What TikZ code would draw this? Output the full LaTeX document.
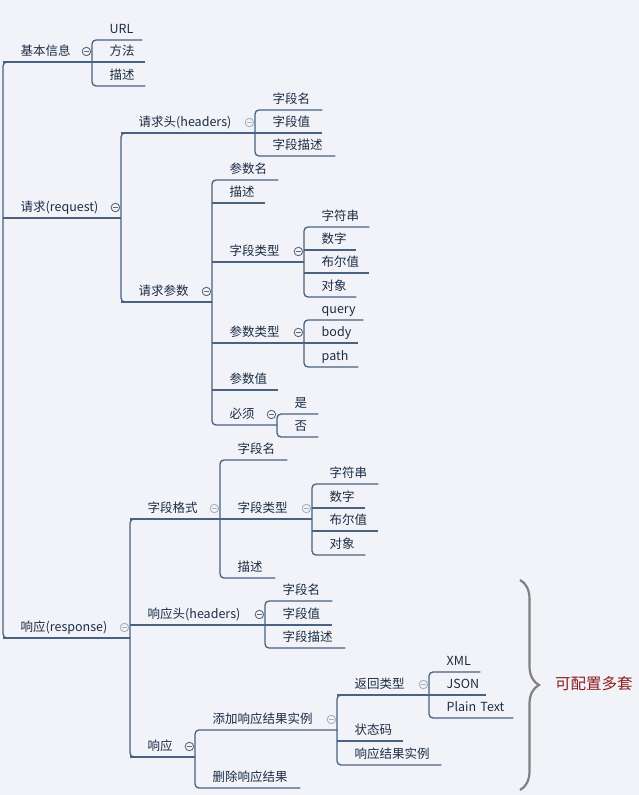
\documentclass[tikz,border=0pt]{standalone}
\usepackage{fontspec}
\usetikzlibrary{decorations.pathreplacing}
\newfontfamily\cjkfont{Noto Sans CJK SC}
\definecolor{bgcol}{RGB}{241,243,248}
\definecolor{linecol}{RGB}{72,98,128}
\definecolor{textcol}{RGB}{28,44,68}
\definecolor{foldcol}{RGB}{95,105,120}
\definecolor{foldpale}{RGB}{170,176,188}
\definecolor{bracecol}{RGB}{128,128,128}
\definecolor{notecol}{RGB}{140,28,28}

\begin{document}
\begin{tikzpicture}[x=1pt,y=-1pt,
  topic/.style={anchor=south west, inner xsep=0pt, inner ysep=6pt, text depth=0pt,
    text width=#1, align=left, text=textcol,
    font=\cjkfont\fontsize{12.5}{14}\selectfont,
    execute at begin node=\hspace*{17.5pt}},
  link/.style={draw=linecol, line width=1.3pt},
  fold/.style={circle, draw=#1, line width=0.9pt, minimum size=8.5pt, inner sep=0pt,
    fill=bgcol, xshift=-6pt, yshift=10.5pt,
    path picture={\draw[#1, line width=0.9pt] ([xshift=2pt]path picture bounding box.west)
      -- ([xshift=-2pt]path picture bounding box.east);}},
  fold/.default=foldcol,
  note/.style={anchor=west, inner sep=0pt, text=notecol,
    font=\cjkfont\fontsize{15.5}{17}\selectfont}]
\useasboundingbox (0,0) rectangle (639,795);
\fill[bgcol] (0,0) rectangle (639,795);

\node[topic=89pt] (jiben) at (3,62) {基本信息};
\node[topic=118pt] (qingqiu) at (3,218) {请求(request)};
\node[topic=127pt] (xiangying) at (3,638) {响应(response)};

\node[topic=50pt] (url) at (92,40) {URL};
\node[topic=53pt] (fangfa) at (92,62) {方法};
\node[topic=53pt] (miaoshu) at (92,86) {描述};

\node[topic=134pt] (qqtou) at (121,133) {请求头(headers)};
\node[topic=91pt] (qqcs) at (121,302) {请求参数};

\node[topic=67pt] (qtzdm) at (255,110) {字段名};
\node[topic=67pt] (qtzdz) at (255,133) {字段值};
\node[topic=80pt] (qtzdms) at (255,156) {字段描述};

\node[topic=66pt] (csm) at (212,180) {参数名};
\node[topic=53pt] (csms) at (212,203) {描述};
\node[topic=92pt] (cszdlx) at (212,262) {字段类型};
\node[topic=92pt] (cslx) at (212,343) {参数类型};
\node[topic=66pt] (csz) at (212,390) {参数值};
\node[topic=65pt] (bixu) at (212,425) {必须};

\node[topic=65pt] (cszfc) at (304,227) {字符串};
\node[topic=52pt] (csszi) at (304,250) {数字};
\node[topic=65pt] (csbez) at (304,273) {布尔值};
\node[topic=52pt] (csdx) at (304,297) {对象};

\node[topic=59pt] (lxquery) at (304,320) {query};
\node[topic=54pt] (lxbody) at (304,343) {body};
\node[topic=54pt] (lxpath) at (304,367) {path};

\node[topic=41pt] (shi) at (277,414) {是};
\node[topic=41pt] (fou) at (277,437) {否};

\node[topic=90pt] (zdgs) at (130,519) {字段格式};
\node[topic=135pt] (xytou) at (130,625) {响应头(headers)};
\node[topic=65pt] (xyresp) at (130,757) {响应};

\node[topic=67pt] (gszdm) at (220,460) {字段名};
\node[topic=92pt] (gszdlx) at (220,519) {字段类型};
\node[topic=55pt] (gsms) at (220,578) {描述};

\node[topic=66pt] (gszfc) at (312,484) {字符串};
\node[topic=53pt] (gsszi) at (312,508) {数字};
\node[topic=66pt] (gsbez) at (312,531) {布尔值};
\node[topic=53pt] (gsdx) at (312,555) {对象};

\node[topic=67pt] (xtzdm) at (265,601) {字段名};
\node[topic=67pt] (xtzdz) at (265,625) {字段值};
\node[topic=80pt] (xtzdms) at (265,648) {字段描述};

\node[topic=142pt] (tianjia) at (195,730) {添加响应结果实例};
\node[topic=105pt] (shanchu) at (195,788) {删除响应结果};

\node[topic=92pt] (fhlx) at (337,695) {返回类型};
\node[topic=66pt] (ztm) at (337,741) {状态码};
\node[topic=104pt] (xysl) at (337,765) {响应结果实例};

\node[topic=51pt] (xml) at (429,672) {XML};
\node[topic=57pt] (json) at (429,695) {JSON};
\node[topic=84pt] (plain) at (429,718) {Plain Text};

\foreach \n in {jiben,qingqiu,xiangying,fangfa,qqtou,qqcs,qtzdz,csms,cszdlx,cslx,csz,
    csszi,csbez,lxbody,zdgs,xytou,xyresp,gszdlx,gsszi,gsbez,xtzdz,fhlx,ztm,json}
  \draw[link] (\n.south west) -- (\n.south east);

\foreach \a/\b in {jiben/xiangying,url/miaoshu,qqtou/qqcs,qtzdm/qtzdms,csm/bixu,
    cszfc/csdx,lxquery/lxpath,shi/fou,zdgs/xyresp,gszdm/gsms,gszfc/gsdx,
    xtzdm/xtzdms,tianjia/shanchu,fhlx/xysl,xml/plain}
  \draw[link, rounded corners=4pt] (\a.south east) -- (\a.south west)
    -- (\b.south west) -- (\b.south east);

\foreach \n in {jiben,qingqiu,qqcs,cszdlx,cslx,bixu,xytou,xyresp}
  \node[fold] (\n-f) at (\n.south east) {};
\foreach \n in {qqtou,xiangying,zdgs,gszdlx,tianjia,fhlx}
  \node[fold=foldpale] (\n-f) at (\n.south east) {};

\coordinate (btop) at (520,580);
\coordinate (bbot) at (520,790);
\draw[bracecol, line width=2.2pt, decorate, decoration={brace, amplitude=19pt}]
  (btop) -- (bbot);
\node[note] (duotao) at (555,684) {可配置多套};
\end{tikzpicture}
\end{document}
